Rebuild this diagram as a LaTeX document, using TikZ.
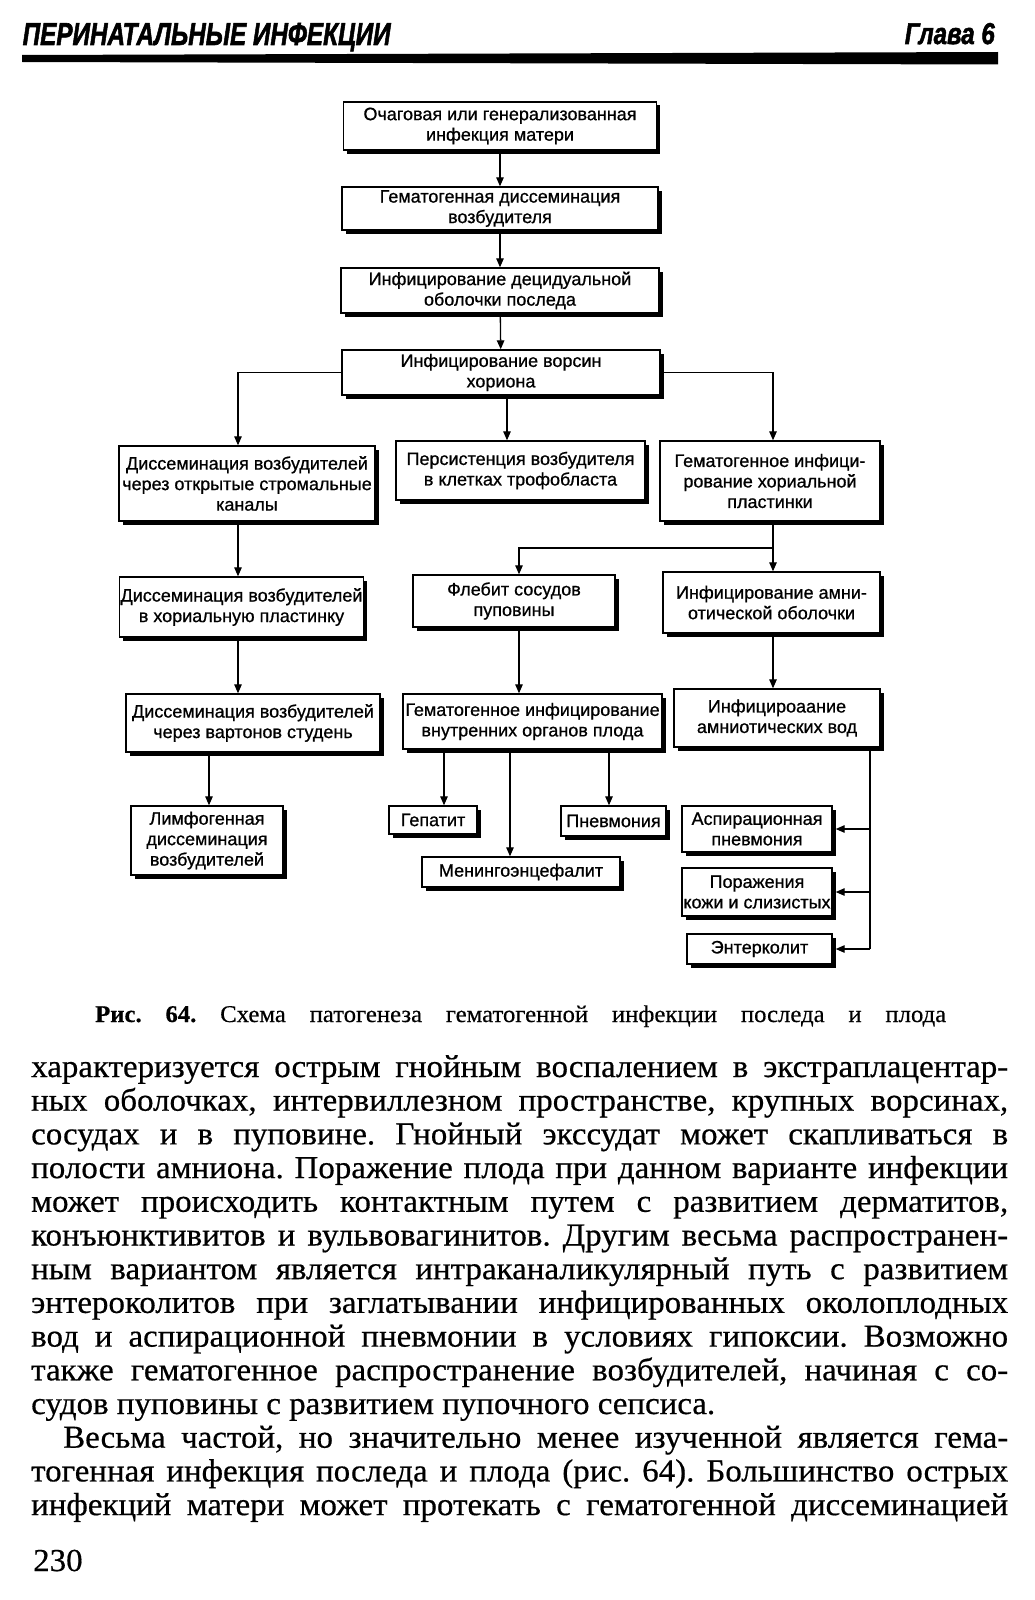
\documentclass[tikz,border=0pt]{standalone}
\usepackage{graphicx}
\usepackage{fontspec}
\usetikzlibrary{arrows.meta,shadows}
\newfontfamily\boxfont[FakeBold=0.8]{Liberation Sans}
\newfontfamily\bodyfont[FakeStretch=1.03,FakeBold=0.5]{Liberation Serif}
\newfontfamily\headfont[FakeBold=2]{Liberation Sans}
\frenchspacing
\begin{document}
\begin{tikzpicture}[x=1pt,y=-1pt,
  bx/.style={draw, line width=1.4pt, fill=white, align=center, inner sep=1pt,
    font=\boxfont\fontsize{18}{20.5}\selectfont,
    drop shadow={shadow xshift=3.5pt, shadow yshift=-3.5pt, fill=black, opacity=1}},
  arr/.style={line width=1.3pt, -{Triangle[length=9pt,width=7.5pt]}},
  ln/.style={line width=1.3pt},
  body/.style={anchor=base west, inner sep=0, font=\bodyfont\fontsize{32}{34}\selectfont\frenchspacing}]
\fill[white] (0,0) rectangle (1035,1600);
\useasboundingbox (0,0) rectangle (1035,1600);

% header
\node[anchor=base west, inner sep=0] (hdr) at (22.5,45) {\resizebox{368pt}{22pt}{\headfont\bfseries\itshape ПЕРИНАТАЛЬНЫЕ ИНФЕКЦИИ}};
\node[anchor=base east, inner sep=0] (ch) at (995,44) {\resizebox{90pt}{21pt}{\headfont\bfseries\itshape Глава 6}};
\fill (22,55) -- (998,52) -- (998,64.5) -- (22,62) -- cycle;

% boxes
\node[bx, minimum width=313pt, minimum height=48pt] (B1) at (500,126) {Очаговая или генерализованная\\инфекция матери};
\node[bx, minimum width=316pt, minimum height=43pt] (B2) at (500,208.5) {Гематогенная диссеминация\\возбудителя};
\node[bx, minimum width=318pt, minimum height=45pt] (B3) at (500,290.5) {Инфицирование децидуальной\\оболочки последа};
\node[bx, minimum width=318pt, minimum height=45pt] (B4) at (501,372.5) {Инфицирование ворсин\\хориона};

\node[bx, minimum width=256pt, minimum height=75pt] (B5) at (247,483.5) {Диссеминация возбудителей\\через открытые стромальные\\каналы};
\node[bx, minimum width=249pt, minimum height=59pt] (B6) at (520.5,470.5) {Персистенция возбудителя\\в клетках трофобласта};
\node[bx, minimum width=220pt, minimum height=80pt] (B7) at (770,481) {Гематогенное инфици-\\рование хориальной\\пластинки};

\node[bx, minimum width=239pt, minimum height=60pt] (B8) at (241.5,607) {Диссеминация возбудителей\\в хориальную пластинку};
\node[bx, minimum width=202pt, minimum height=52pt] (B9) at (514,601) {Флебит сосудов\\пуповины};
\node[bx, minimum width=217pt, minimum height=61pt] (B10) at (771.5,602.5) {Инфицирование амни-\\отической оболочки};

\node[bx, minimum width=254pt, minimum height=58pt] (B11) at (253,723) {Диссеминация возбудителей\\через вартонов студень};
\node[bx, minimum width=259pt, minimum height=55pt] (B12) at (532.5,721.5) {Гематогенное инфицирование\\внутренних органов плода};
\node[bx, minimum width=206pt, minimum height=58pt] (B13) at (777,718) {Инфицироаание\\амниотических вод};

\node[bx, minimum width=152pt, minimum height=69pt] (B14) at (207,840.5) {Лимфогенная\\диссеминация\\возбудителей};
\node[bx, minimum width=88pt, minimum height=28pt] (Hep) at (433,820) {Гепатит};
\node[bx, minimum width=105pt, minimum height=30pt] (Pn) at (613.5,821) {Пневмония};
\node[bx, minimum width=198pt, minimum height=30pt] (Men) at (521,872) {Менингоэнцефалит};
\node[bx, minimum width=150pt, minimum height=46pt] (Asp) at (757,829) {Аспирационная\\пневмония};
\node[bx, minimum width=150pt, minimum height=48pt] (Por) at (757,892) {Поражения\\кожи и слизистых};
\node[bx, minimum width=145pt, minimum height=30pt] (Ent) at (759.5,949) {Энтерколит};

% connector x positions
\coordinate (xL) at (238,0);
\coordinate (xC) at (507,0);
\coordinate (xJ) at (519,0);
\coordinate (xR) at (773,0);
\coordinate (xB) at (209,0);
\coordinate (xH) at (444,0);
\coordinate (xM) at (510,0);
\coordinate (xP) at (609,0);
\coordinate (xE) at (870,0);
\coordinate (J) at (773,548);

\draw[arr] (B1) -- (B2);
\draw[arr] (B2) -- (B3);
\draw[arr] (B3) -- (B4);
\draw[arr] (B4.west) -| (B5.north -| xL);
\draw[arr] (B4.east) -| (B7.north -| xR);
\draw[arr] (B4.south -| xC) -- (B6.north -| xC);
\draw[arr] (B5.south -| xL) -- (B8.north -| xL);
\draw[arr] (B8.south -| xL) -- (B11.north -| xL);
\draw[ln] (B7.south -| xR) -- (J);
\draw[arr] (J) -| (B9.north -| xJ);
\draw[arr] (J) -- (B10.north -| xR);
\draw[arr] (B9.south -| xJ) -- (B12.north -| xJ);
\draw[arr] (B10.south -| xR) -- (B13.north -| xR);
\draw[arr] (B11.south -| xB) -- (B14.north -| xB);
\draw[arr] (B12.south -| xH) -- (Hep.north -| xH);
\draw[arr] (B12.south -| xM) -- (Men.north -| xM);
\draw[arr] (B12.south -| xP) -- (Pn.north -| xP);
\draw[ln] (B13.south -| xE) -- (Ent.east -| xE);
\draw[arr, shorten >=3pt] (Asp.east -| xE) -- (Asp.east);
\draw[arr, shorten >=3pt] (Por.east -| xE) -- (Por.east);
\draw[arr, shorten >=3pt] (Ent.east -| xE) -- (Ent.east);

% caption
\node[anchor=base west, inner sep=0, font=\bodyfont\fontsize{24}{26}\selectfont] (cap) at (95,1022)
  {\makebox[851pt][s]{\textbf{Рис. 64.} Схема патогенеза гематогенной инфекции последа и плода}};

% body text
\node[body] (L1) at (31,1077) {\makebox[977pt][s]{характеризуется острым гнойным воспалением в экстраплацентар-}};
\node[body] (L2) at (31,1110.7) {\makebox[977pt][s]{ных оболочках, интервиллезном пространстве, крупных ворсинах,}};
\node[body] (L3) at (31,1144.4) {\makebox[977pt][s]{сосудах и в пуповине. Гнойный экссудат может скапливаться в}};
\node[body] (L4) at (31,1178.1) {\makebox[977pt][s]{полости амниона. Поражение плода при данном варианте инфекции}};
\node[body] (L5) at (31,1211.8) {\makebox[977pt][s]{может происходить контактным путем с развитием дерматитов,}};
\node[body] (L6) at (31,1245.5) {\makebox[977pt][s]{конъюнктивитов и вульвовагинитов. Другим весьма распространен-}};
\node[body] (L7) at (31,1279.2) {\makebox[977pt][s]{ным вариантом является интраканаликулярный путь с развитием}};
\node[body] (L8) at (31,1312.9) {\makebox[977pt][s]{энтероколитов при заглатывании инфицированных околоплодных}};
\node[body] (L9) at (31,1346.6) {\makebox[977pt][s]{вод и аспирационной пневмонии в условиях гипоксии. Возможно}};
\node[body] (L10) at (31,1380.3) {\makebox[977pt][s]{также гематогенное распространение возбудителей, начиная с со-}};
\node[body] (L11) at (31,1414) {судов пуповины с развитием пупочного сепсиса.};
\node[body] (L12) at (63,1447.7) {\makebox[945pt][s]{Весьма частой, но значительно менее изученной является гема-}};
\node[body] (L13) at (31,1481.4) {\makebox[977pt][s]{тогенная инфекция последа и плода (рис. 64). Большинство острых}};
\node[body] (L14) at (31,1515.1) {\makebox[977pt][s]{инфекций матери может протекать с гематогенной диссеминацией}};

\node[body] (pg) at (33,1571) {230};
\end{tikzpicture}
\end{document}
